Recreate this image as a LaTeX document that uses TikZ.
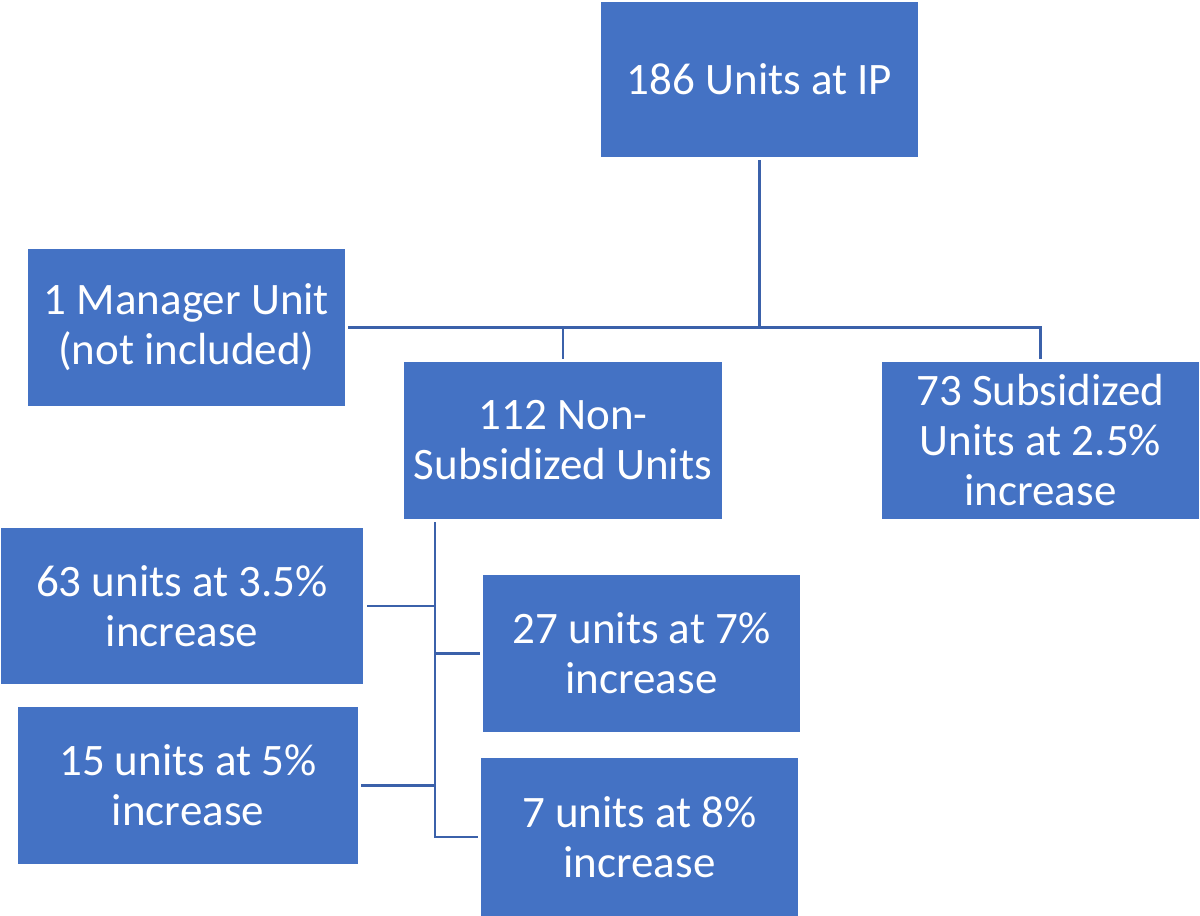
\documentclass[tikz,border=0pt]{standalone}
\usepackage{fontspec}
\setmainfont{Carlito}
\usetikzlibrary{calc}
\definecolor{boxblue}{HTML}{4472C4}
\definecolor{linkblue}{HTML}{3B61AA}
\begin{document}
\begin{tikzpicture}[x=1pt,y=-1pt,
  unit/.style={fill=boxblue, text=white, align=center, inner sep=0pt,
    font=\fontsize{45}{50}\selectfont},
  link/.style={draw=linkblue, line width=2.6pt}]
\useasboundingbox (0,0) rectangle (1200,916);
\node[unit, minimum width=317, minimum height=155] (top) at (759.5,79.5) {186 Units at IP};
\node[unit, minimum width=317, minimum height=157] (mgr) at (186.5,327.5) {1 Manager Unit\\(not included)};
\node[unit, minimum width=318, minimum height=157] (nonsub) at (563,440.5) {112 Non-\\Subsidized Units};
\node[unit, minimum width=317, minimum height=157] (sub) at (1040.5,440.5) {73 Subsidized\\Units at 2.5\%\\increase};
\node[unit, minimum width=362, minimum height=156] (u63) at (182,606) {63 units at 3.5\%\\increase};
\node[unit, minimum width=317, minimum height=157] (u27) at (641.5,653.5) {27 units at 7\%\\increase};
\node[unit, minimum width=340, minimum height=157] (u15) at (188,785.5) {15 units at 5\%\\increase};
\node[unit, minimum width=317, minimum height=158] (u7) at (639.5,837) {7 units at 8\%\\increase};

\coordinate (hub) at (top.south |- mgr.east);
\draw[link] ($(top.south)+(0,3)$) -- (hub) -- ($(mgr.east)+(3,0)$);
\draw[link] (hub) -| ($(nonsub.north)+(0,-3)$);
\draw[link] (hub) -| ($(sub.north)+(0,-3)$);

\coordinate (trunk) at ($(nonsub.south west)+(31,3)$);
\draw[link] (trunk) |- ($(u7.west)+(-3,0)$);
\draw[link] (trunk |- u63.east) -- ($(u63.east)+(4,0)$);
\draw[link] (trunk |- u27.west) -- ($(u27.west)+(-3,0)$);
\draw[link] (trunk |- u15.east) -- ($(u15.east)+(3,0)$);
\end{tikzpicture}
\end{document}
